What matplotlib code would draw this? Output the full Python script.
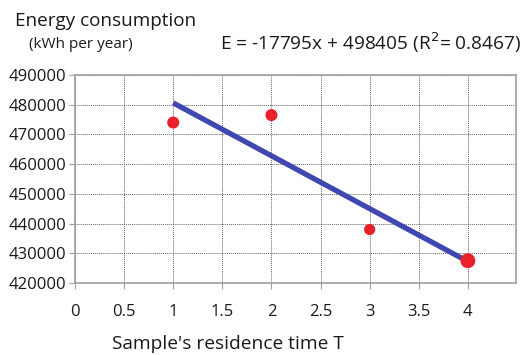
import matplotlib
matplotlib.use("Agg")
import matplotlib.pyplot as plt
import numpy as np

# Data
residence_time = [1, 2, 3, 4]
energy = [474000, 476500, 438000, 427500]
fit_slope = -17795
fit_intercept = 498405
fit_r2 = 0.8467
x_ticks = [0, 0.5, 1, 1.5, 2, 2.5, 3, 3.5, 4]
x_tick_labels = ["0", "0.5", "1", "1.5", "2", "2.5", "3", "3.5", "4"]
y_ticks = [420000, 430000, 440000, 450000, 460000, 470000, 480000, 490000]

plt.rcParams['font.family'] = ['Open Sans', 'DejaVu Sans']

fig = plt.figure(figsize=(5.27, 3.55), dpi=100)
W, H = 527, 355
left, right, top, bottom = 75, 516, 75, 283
ax = fig.add_axes([left / W, 1 - bottom / H, (right - left) / W, (bottom - top) / H])

ax.set_xlim(0, 4.49)
ax.set_ylim(420000, 490000)
ax.set_xticks(x_ticks)
ax.set_xticklabels(x_tick_labels)
ax.set_yticks(y_ticks)
ax.set_yticklabels([str(v) for v in y_ticks])

ax.grid(True, linestyle=(0, (1, 1)), color='#666666', linewidth=0.7)
ax.set_axisbelow(True)
for s in ax.spines.values():
    s.set_color('#a0a0a0')
    s.set_linewidth(1.2)
ax.tick_params(axis='both', colors='#a0a0a0', labelcolor='#1a1a1a', labelsize=12, length=4)
ax.tick_params(axis='x', pad=11)
ax.tick_params(axis='y', pad=2)

# regression line
xl = np.array([residence_time[0], residence_time[-1]])
ax.plot(xl, fit_slope * xl + fit_intercept, color='#3f48b0', linewidth=3.8, solid_capstyle='butt', zorder=3)

sizes = [75, 75, 65, 115]
ax.scatter(residence_time, energy, s=sizes, color='#e8202a', zorder=4, linewidths=0)

fig.text(15 / W, 1 - 21 / H, "Energy consumption", fontsize=13.6, ha='left', va='center', color='#1a1a1a')
fig.text(29 / W, 1 - 45 / H, "(kWh per year)", fontsize=11, ha='left', va='center', color='#1a1a1a')
fig.text(220 / W, 1 - 43 / H, "E = -17795x + 498405 (R$^2$= 0.8467)", fontsize=13.7, ha='left', va='center', color='#1a1a1a')
fig.text(228 / W, 1 - 344 / H, "Sample's residence time T", fontsize=13.8, ha='center', va='center', color='#1a1a1a')

fig.savefig("out.png", dpi=100)
